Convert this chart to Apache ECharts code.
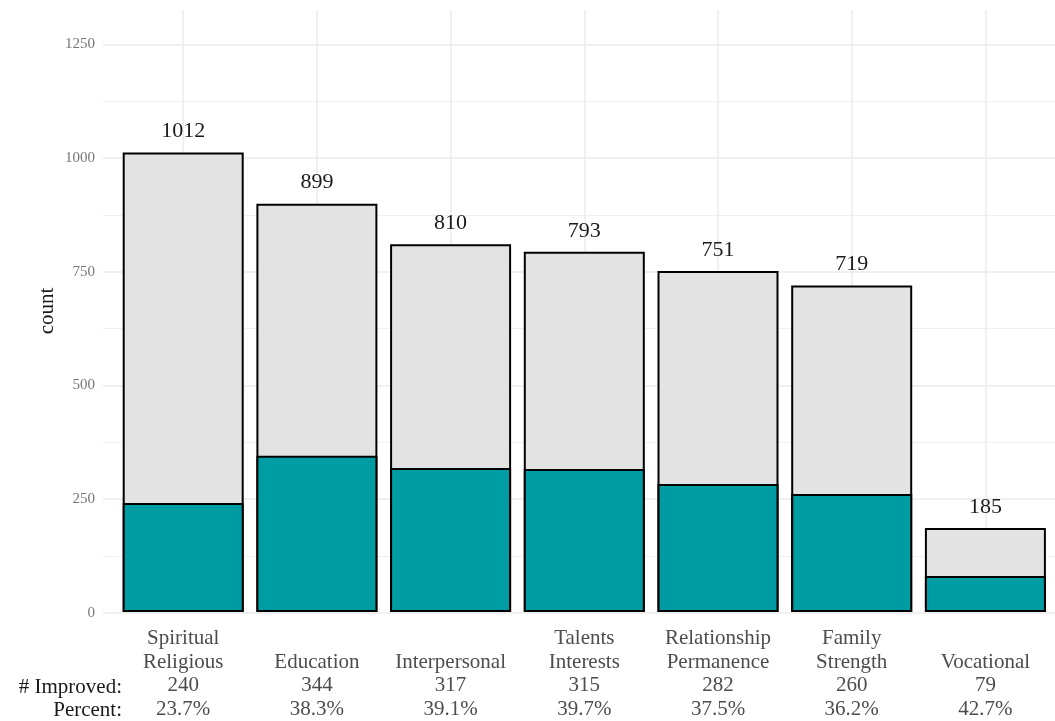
<!DOCTYPE html>
<html>
<head>
<meta charset="utf-8">
<script src="https://cdn.jsdelivr.net/npm/echarts@6/dist/echarts.min.js"></script>
<style>
html,body{margin:0;padding:0;background:#fff;}
#chart{width:1055px;height:721px;}
</style>
</head>
<body>
<div id="chart"></div>
<script>
var categories = ['Spiritual\nReligious', 'Education', 'Interpersonal', 'Talents\nInterests', 'Relationship\nPermanence', 'Family\nStrength', 'Vocational'];
var totals = [1012, 899, 810, 793, 751, 719, 185];
var improved = [240, 344, 317, 315, 282, 260, 79];
var percentLabels = ['23.7%', '38.3%', '39.1%', '39.7%', '37.5%', '36.2%', '42.7%'];
var yTicks = [0, 250, 500, 750, 1000, 1250];

var axisCats = categories.map(function (c, i) {
  var name = c.indexOf('\n') >= 0 ? c : ' \n' + c;
  return name + '\n' + improved[i] + '\n' + percentLabels[i];
});

var FONT = '"Liberation Serif", "DejaVu Serif", serif';
var hiddenAxis = {show: false, axisLine: {show: false}, axisTick: {show: false}, axisLabel: {show: false}, splitLine: {show: false}};
var chart = echarts.init(document.getElementById('chart'), null, {renderer: 'canvas'});
var option = {
  animation: false,
  backgroundColor: '#ffffff',
  textStyle: {fontFamily: FONT},
  grid: [
    {left: 103, right: -11, top: 44.3, bottom: 108.3},
    {left: 116.35, right: 2.75, top: 44.3, bottom: 108.3},
    {left: 183.2, right: 69.5, top: 10, bottom: 108.3}
  ],
  xAxis: [
    Object.assign({gridIndex: 0, type: 'value', min: 0, max: 1}, hiddenAxis),
    {
      gridIndex: 1, type: 'category', data: axisCats, boundaryGap: true,
      axisLine: {show: false}, axisTick: {show: false}, splitLine: {show: false},
      axisLabel: {
        interval: 0, margin: 15, color: '#4d4d4d', fontSize: 21,
        lineHeight: 23.5, fontFamily: FONT, align: 'center'
      }
    },
    {
      gridIndex: 2, type: 'category', data: categories, boundaryGap: false,
      axisLine: {show: false}, axisTick: {show: false}, axisLabel: {show: false},
      splitLine: {show: true, lineStyle: {color: '#ebebeb', width: 1.5}}
    }
  ],
  yAxis: [
    {
      gridIndex: 0, type: 'value', min: 0, max: 1250, interval: 250,
      axisLine: {show: false}, axisTick: {show: false},
      axisLabel: {
        margin: 8, color: '#777777', fontSize: 15, fontFamily: FONT,
        formatter: function (v) { return yTicks.indexOf(v) >= 0 ? String(v) : ''; }
      },
      splitLine: {show: true, lineStyle: {color: '#ebebeb', width: 1.5}},
      minorTick: {show: false, splitNumber: 2},
      minorSplitLine: {show: true, lineStyle: {color: '#f0f0f0', width: 1.2}},
      position: 'left'
    },
    Object.assign({gridIndex: 1, type: 'value', min: 0, max: 1250}, hiddenAxis),
    Object.assign({gridIndex: 2, type: 'value', min: 0, max: 1}, hiddenAxis)
  ],
  series: [
    {
      name: 'Total', type: 'bar', xAxisIndex: 1, yAxisIndex: 1,
      data: totals, barWidth: 121, barGap: '-100%',
      itemStyle: {color: '#e3e3e3', borderColor: '#000000', borderWidth: 2},
      label: {
        show: true, position: 'top', distance: 10, color: '#1a1a1a', fontSize: 22,
        fontFamily: FONT
      },
      z: 2
    },
    {
      name: 'Improved', type: 'bar', xAxisIndex: 1, yAxisIndex: 1,
      data: improved, barWidth: 121, barGap: '-100%',
      itemStyle: {color: '#009ca3', borderColor: '#000000', borderWidth: 2},
      z: 3
    }
  ],
  graphic: [
    {type: 'text', x: 47, y: 311, rotation: Math.PI / 2, style: {text: 'count', fill: '#1a1a1a', font: '21px ' + FONT, textAlign: 'center', textVerticalAlign: 'middle'}},
    {type: 'text', x: 122, y: 687, style: {text: '# Improved:', fill: '#1a1a1a', font: '21px ' + FONT, textAlign: 'right', textVerticalAlign: 'middle'}},
    {type: 'text', x: 122, y: 710.5, style: {text: 'Percent:', fill: '#1a1a1a', font: '21px ' + FONT, textAlign: 'right', textVerticalAlign: 'middle'}}
  ]
};
chart.setOption(option);
</script>
</body>
</html>
